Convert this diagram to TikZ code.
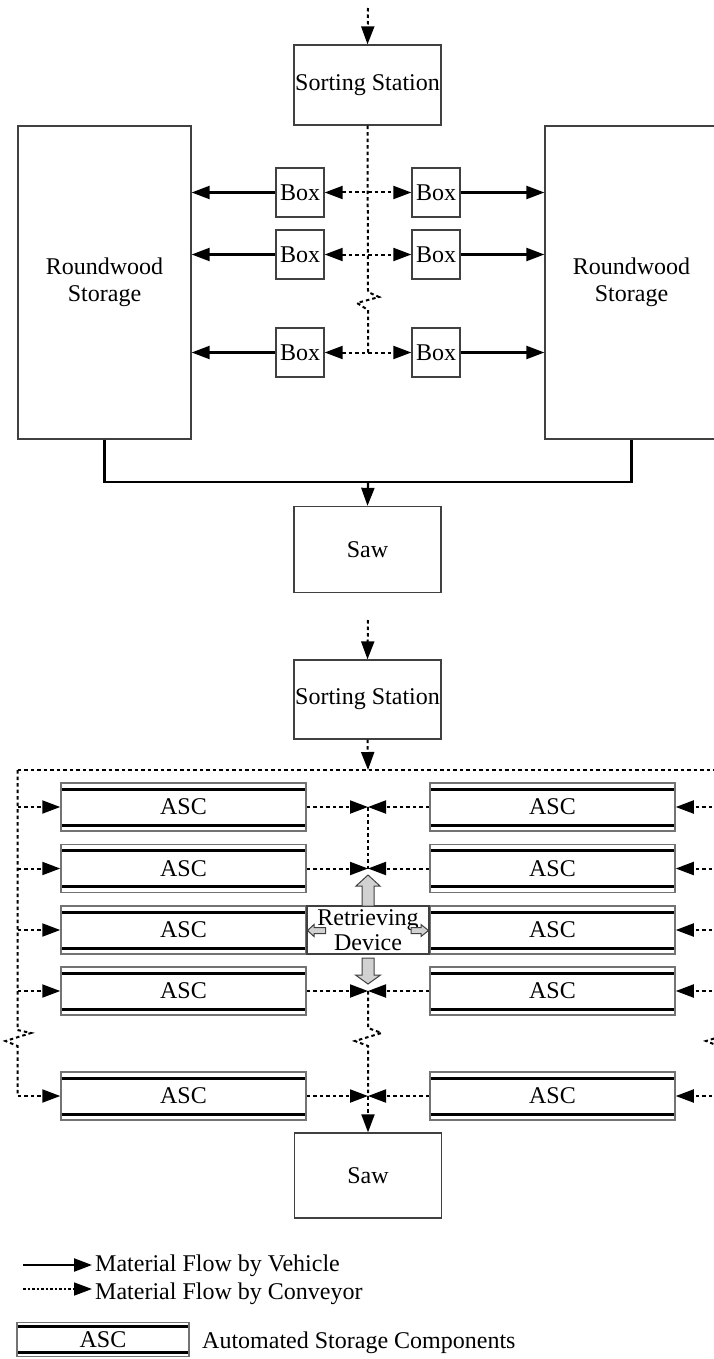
\documentclass[tikz,border=0pt]{standalone}
\usepackage{fontspec}
\setmainfont{Liberation Serif}
\usetikzlibrary{arrows.meta,calc}
\begin{document}
\begin{tikzpicture}[x=1pt,y=-1pt,
  every node/.style={font=\fontsize{24pt}{27pt}\selectfont},
  box/.style={draw=black!75,line width=1.3pt,inner sep=0pt,align=center},
  tip/.style={-{Triangle[length=18pt,width=13pt]}},
  tips/.style={{Triangle[length=18pt,width=13pt]}-{Triangle[length=18pt,width=13pt]}},
  veh/.style={line width=2.2pt,black},
  conv/.style={line width=2pt,black,dash pattern=on 3.5pt off 3pt},
  ascbox/.style={draw=black!55,line width=1.5pt,inner sep=0pt,minimum width=245pt,minimum height=48pt,
    path picture={
      \draw[line width=3pt,black] ([yshift=-6pt]path picture bounding box.north west) -- ([yshift=-6pt]path picture bounding box.north east);
      \draw[line width=3pt,black] ([yshift=6pt]path picture bounding box.south west) -- ([yshift=6pt]path picture bounding box.south east);}},
  ascleg/.style={draw=black!55,line width=1.5pt,inner sep=0pt,minimum width=172pt,minimum height=34pt,
    path picture={
      \draw[line width=2.8pt,black] ([yshift=-4pt]path picture bounding box.north west) -- ([yshift=-4pt]path picture bounding box.north east);
      \draw[line width=2.8pt,black] ([yshift=4pt]path picture bounding box.south west) -- ([yshift=4pt]path picture bounding box.south east);}},
  greyarrow/.style={fill=black!18,draw=black!75,line width=1pt},
  legtext/.style={anchor=base west,inner sep=0pt}
]
\clip (0,0) rectangle (714,1359);

% ================= TOP HALF =================
\node[box,minimum width=147pt,minimum height=80pt] (ss1) at (367.5,85) {Sorting Station};
\node[box,minimum width=173pt,minimum height=313pt] (rw1) at (104.5,282.5) {Roundwood\\Storage};
\node[box,minimum width=173pt,minimum height=313pt] (rw2) at (631.5,282.5) {Roundwood\\Storage};
\node[box,minimum width=48pt,minimum height=49pt] (bl1) at (300,192.5) {Box};
\node[box,minimum width=48pt,minimum height=49pt] (br1) at (436,192.5) {Box};
\node[box,minimum width=48pt,minimum height=49pt] (bl2) at (300,254.5) {Box};
\node[box,minimum width=48pt,minimum height=49pt] (br2) at (436,254.5) {Box};
\node[box,minimum width=48pt,minimum height=49pt] (bl3) at (300,352.5) {Box};
\node[box,minimum width=48pt,minimum height=49pt] (br3) at (436,352.5) {Box};
\node[box,minimum width=147pt,minimum height=86pt] (saw1) at (367.5,549.5) {Saw};

\coordinate (in1) at (368,8);
\coordinate (z1a) at (368,292);
\coordinate (z1b) at (379,297);
\coordinate (z1c) at (357,303);
\coordinate (z1d) at (368,310);
\coordinate (c3) at (368,352.5);
\coordinate (j1) at (368,482);

\draw[conv,tip] (in1) -- (ss1.north);
\draw[conv] (ss1.south) -- (z1a) -- (z1b) -- (z1c) -- (z1d) -- (c3);
\foreach \i in {1,2,3}{
  \draw[conv,tips] (bl\i.east) -- (br\i.west);
  \draw[veh,tip] (bl\i.west) -- (bl\i.west -| rw1.east);
  \draw[veh,tip] (br\i.east) -- (br\i.east -| rw2.west);
}
\draw[veh] (rw1.south) |- (j1) -| (rw2.south);
\draw[veh,tip] (j1) -- (saw1.north);

% ================= BOTTOM HALF =================
\node[box,minimum width=147pt,minimum height=79pt] (ss2) at (367.5,699.5) {Sorting Station};
\node[box,minimum width=147pt,minimum height=85pt] (saw2) at (368,1175.5) {Saw};

\node[ascbox] (al1) at (183.5,807) {ASC};
\node[ascbox] (ar1) at (552.5,807) {ASC};
\node[ascbox] (al2) at (183.5,868.5) {ASC};
\node[ascbox] (ar2) at (552.5,868.5) {ASC};
\node[ascbox] (al3) at (183.5,930) {ASC};
\node[ascbox] (ar3) at (552.5,930) {ASC};
\node[ascbox] (al4) at (183.5,991) {ASC};
\node[ascbox] (ar4) at (552.5,991) {ASC};
\node[ascbox] (al5) at (183.5,1096) {ASC};
\node[ascbox] (ar5) at (552.5,1096) {ASC};

\node[box,fill=white,minimum width=122pt,minimum height=48pt,font=\fontsize{24pt}{25pt}\selectfont] (rd) at (368,930) {Retrieving\\Device};

\coordinate (in2) at (368,620);
\coordinate (top2) at (368,770);
\coordinate (tl) at (17.5,770);
\coordinate (tr) at (718.5,770);

\draw[conv,tip] (in2) -- (ss2.north);
\draw[conv,tip] (ss2.south) -- (top2);
\draw[conv] (tl) -- (tr);

% left and right supply lines with breaks
\coordinate (zla) at (17.5,1030);
\coordinate (zlb) at (31,1033);
\coordinate (zlc) at (5.5,1041);
\coordinate (zld) at (17.5,1046);
\coordinate (lb) at (17.5,1096);
\draw[conv] (tl) -- (zla) -- (zlb) -- (zlc) -- (zld) -- (lb);
\coordinate (zra) at (718.5,1030);
\coordinate (zrb) at (732,1033);
\coordinate (zrc) at (706,1041);
\coordinate (zrd) at (718.5,1046);
\coordinate (rb) at (718.5,1096);
\draw[conv] (tr) -- (zra) -- (zrb) -- (zrc) -- (zrd) -- (rb);

\foreach \i in {1,2,3,4,5}{
  \draw[conv,tip] (al\i.west -| tl) -- (al\i.west);
  \draw[conv,tip] (ar\i.east -| tr) -- (ar\i.east);
}
\foreach \i in {1,2,4,5}{
  \coordinate (m\i) at (al\i.east -| top2);
  \draw[conv,tip] (al\i.east) -- (m\i);
  \draw[conv,tip] (ar\i.west) -- (m\i);
}

% central collecting line
\draw[conv] (m1) -- (m2);
\coordinate (zca) at (368,1028);
\coordinate (zcb) at (381.5,1033);
\coordinate (zcc) at (355,1041);
\coordinate (zcd) at (368,1046);
\draw[conv] (m4) -- (zca) -- (zcb) -- (zcc) -- (zcd) -- (m5);
\draw[conv,tip] (m5) -- (saw2.north);

% retrieving device movement arrows
\draw[greyarrow] (362,906) -- (362,886) -- (356,886) -- (368,875) -- (380,886) -- (374,886) -- (374,906) -- cycle;
\draw[greyarrow] (362,958) -- (374,958) -- (374,975) -- (380.5,975) -- (368,984) -- (355.5,975) -- (362,975) -- cycle;
\draw[greyarrow] (325.7,927.5) -- (314,927.5) -- (314,924.5) -- (307.5,930.5) -- (314,936.5) -- (314,933.5) -- (325.7,933.5) -- cycle;
\draw[greyarrow] (411,927.5) -- (421,927.5) -- (421,924.5) -- (428.5,930.5) -- (421,936.5) -- (421,933.5) -- (411,933.5) -- cycle;

% ================= LEGEND =================
\coordinate (l1a) at (23,1265);
\coordinate (l1b) at (92,1265);
\draw[veh,tip] (l1a) -- (l1b);
\node[legtext] (l1t) at (95,1271.5) {Material Flow by Vehicle};
\coordinate (l2a) at (23,1289);
\coordinate (l2b) at (92,1289);
\draw[line width=1.5pt,dash pattern=on 2.5pt off 2pt,tip] (l2a) -- (l2b);
\node[legtext] (l2t) at (95,1299.5) {Material Flow by Conveyor};
\node[ascleg] (l3) at (103,1339.5) {ASC};
\node[legtext] (l3t) at (202,1348) {Automated Storage Components};
\end{tikzpicture}
\end{document}
